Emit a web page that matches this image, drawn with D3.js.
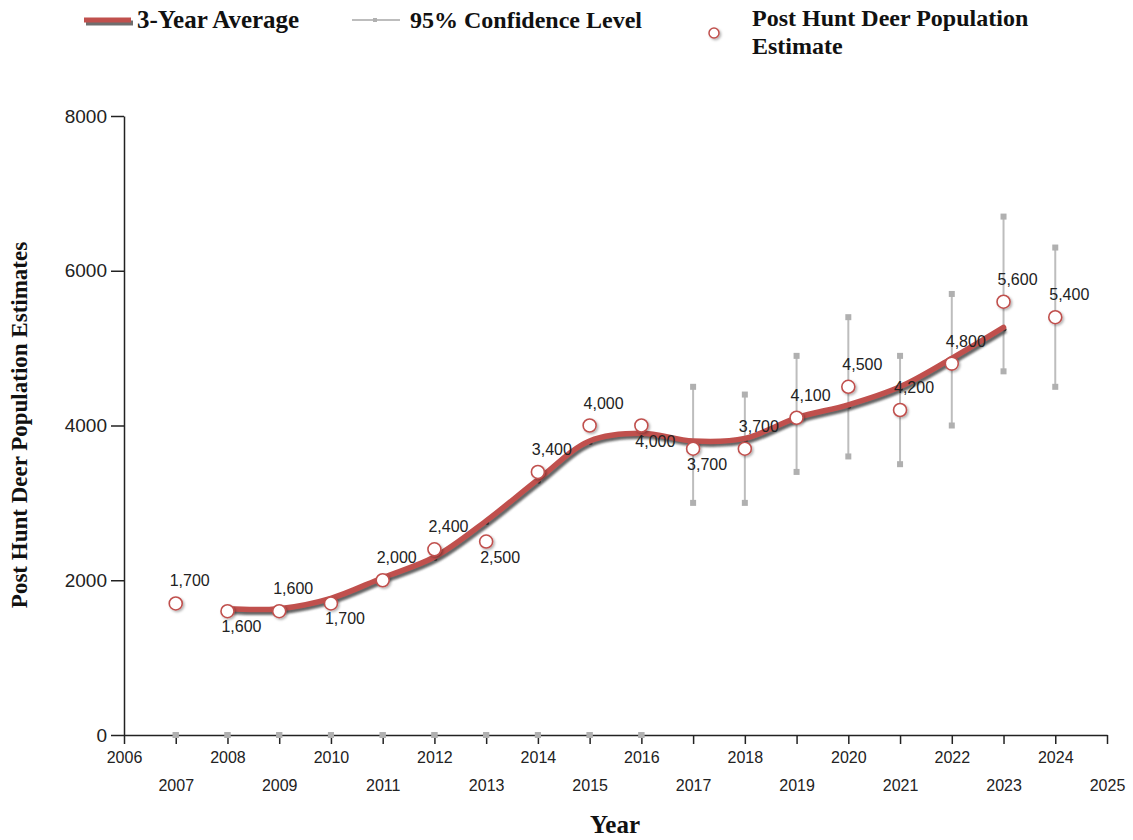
<!DOCTYPE html>
<html>
<head>
<meta charset="utf-8">
<script src="https://cdn.jsdelivr.net/npm/d3@7"></script>
<style>
  body { margin: 0; background: #fff; }
  .tick text { font-family: "Liberation Sans", Arial, sans-serif; fill: #222; }
  .legend text, .title { font-family: "Liberation Serif", "Times New Roman", serif; font-weight: bold; fill: #111; }
  .dlabel { font-family: "Liberation Sans", Arial, sans-serif; font-size: 16px; fill: #222; }
</style>
</head>
<body>
<svg width="1133" height="840"></svg>
<script>
// yearly estimates
const years = [2007, 2008, 2009, 2010, 2011, 2012, 2013, 2014, 2015, 2016, 2017, 2018, 2019, 2020, 2021, 2022, 2023, 2024];
const estimates = [1700, 1600, 1600, 1700, 2000, 2400, 2500, 3400, 4000, 4000, 3700, 3700, 4100, 4500, 4200, 4800, 5600, 5400];
const labelSide = ["up", "down", "up", "down", "up", "up", "down", "up", "up", "down", "down", "up", "up", "up", "up", "up", "up", "up"];

// 95% confidence limits (zero where none reported)
const ciLow = [0, 0, 0, 0, 0, 0, 0, 0, 0, 0, 3000, 3000, 3400, 3600, 3500, 4000, 4700, 4500];
const ciHigh = [0, 0, 0, 0, 0, 0, 0, 0, 0, 0, 4500, 4400, 4900, 5400, 4900, 5700, 6700, 6300];

// 3-year average
const avgYears = [2008, 2009, 2010, 2011, 2012, 2013, 2014, 2015, 2016, 2017, 2018, 2019, 2020, 2021, 2022, 2023];
const avgValues = [1633, 1633, 1767, 2033, 2300, 2767, 3300, 3800, 3900, 3800, 3833, 4100, 4267, 4500, 4867, 5267];

const xTicks = d3.range(2006, 2026);
const yTicks = [0, 2000, 4000, 6000, 8000];

const red = "#c0504d", shadow = "#4a4a4a", ciColor = "#bdbdbd";

const svg = d3.select("svg");
const x = d3.scaleLinear().domain([2006, 2025]).range([124, 1107]);
const y = d3.scaleLinear().domain([0, 8000]).range([735, 116]);

const defs = svg.append("defs");
defs.append("filter").attr("id", "blur").append("feGaussianBlur").attr("stdDeviation", 1.2);
const ds = defs.append("filter").attr("id", "dotshadow").attr("x", "-50%").attr("y", "-50%").attr("width", "200%").attr("height", "200%");
ds.append("feDropShadow").attr("dx", 1.5).attr("dy", 1.5).attr("stdDeviation", 1).attr("flood-color", "#000").attr("flood-opacity", 0.3);

// axes
const xAxis = svg.append("g")
    .attr("transform", `translate(0,${y(0)})`)
    .call(d3.axisBottom(x).tickValues(xTicks).tickFormat(d3.format("d")).tickSize(9).tickSizeOuter(0));
xAxis.selectAll(".tick text")
    .style("font-size", "16px")
    .attr("dy", 0)
    .attr("y", (d, i) => i % 2 ? 56 : 28);

const yAxis = svg.append("g")
    .attr("transform", `translate(${x(2006)},0)`)
    .call(d3.axisLeft(y).tickValues(yTicks).tickFormat(d3.format("d")).tickSize(13).tickSizeOuter(0).tickPadding(4));
yAxis.selectAll(".tick text").style("font-size", "19px");
svg.selectAll(".domain, .tick line").attr("stroke", "#222").attr("stroke-width", 1.5);

// confidence bars
const ci = svg.append("g");
years.forEach((yr, i) => {
    ci.append("line")
        .attr("x1", x(yr)).attr("x2", x(yr))
        .attr("y1", y(ciLow[i])).attr("y2", y(ciHigh[i]))
        .attr("stroke", ciColor).attr("stroke-width", 2);
    [ciLow[i], ciHigh[i]].forEach(v => {
        ci.append("rect")
            .attr("x", x(yr) - 3).attr("y", y(v) - 3)
            .attr("width", 6).attr("height", 6)
            .attr("fill", "#b0b0b0");
    });
});

// 3-year average line
const avg = avgYears.map((yr, i) => [yr, avgValues[i]]);
const line = d3.line()
    .x(d => x(d[0]))
    .y(d => y(d[1]))
    .curve(d3.curveCatmullRom.alpha(0.5));

svg.append("path")
    .attr("d", line(avg))
    .attr("transform", "translate(2,3)")
    .attr("fill", "none").attr("stroke", shadow).attr("stroke-width", 5)
    .attr("opacity", 0.85).attr("filter", "url(#blur)");
svg.append("g").selectAll("circle")
    .data(avg).enter()
    .append("circle")
    .attr("cx", d => x(d[0]) + 1).attr("cy", d => y(d[1]) + 2)
    .attr("r", 2).attr("fill", "#333");
svg.append("path")
    .attr("d", line(avg))
    .attr("fill", "none").attr("stroke", red).attr("stroke-width", 5.5)
    .attr("stroke-linecap", "round");

// estimate points
svg.append("g").selectAll("circle")
    .data(years).enter()
    .append("circle")
    .attr("cx", d => x(d))
    .attr("cy", (d, i) => y(estimates[i]))
    .attr("r", 6.5)
    .attr("fill", "#fff").attr("stroke", red).attr("stroke-width", 1.6)
    .attr("filter", "url(#dotshadow)");

svg.append("g").selectAll("text")
    .data(years).enter()
    .append("text")
    .attr("class", "dlabel")
    .attr("text-anchor", "middle")
    .attr("x", d => x(d) + 14)
    .attr("y", (d, i) => y(estimates[i]) + (labelSide[i] === "up" ? -17 : 21))
    .text((d, i) => d3.format(",")(estimates[i]));

// axis titles
svg.append("text").attr("class", "title")
    .attr("x", 615).attr("y", 833)
    .attr("text-anchor", "middle").style("font-size", "25px")
    .text("Year");
svg.append("text").attr("class", "title")
    .attr("transform", "translate(27,425) rotate(-90)")
    .attr("text-anchor", "middle").style("font-size", "23px")
    .text("Post Hunt Deer Population Estimates");

// legend
const lg = svg.append("g").attr("class", "legend");
lg.append("line").attr("x1", 86).attr("x2", 133).attr("y1", 23).attr("y2", 23)
    .attr("stroke", shadow).attr("stroke-width", 5).attr("opacity", 0.8);
lg.append("line").attr("x1", 84).attr("x2", 131).attr("y1", 20).attr("y2", 20)
    .attr("stroke", red).attr("stroke-width", 5);
lg.append("text").attr("x", 137).attr("y", 28).style("font-size", "25px").text("3-Year Average");

lg.append("line").attr("x1", 352).attr("x2", 400).attr("y1", 20).attr("y2", 20)
    .attr("stroke", ciColor).attr("stroke-width", 2);
lg.append("rect").attr("x", 373).attr("y", 18).attr("width", 4).attr("height", 4).attr("fill", "#b0b0b0");
lg.append("text").attr("x", 410).attr("y", 28).style("font-size", "24px").text("95% Confidence Level");

lg.append("circle").attr("cx", 714).attr("cy", 33).attr("r", 5)
    .attr("fill", "#fff").attr("stroke", red).attr("stroke-width", 1.5)
    .attr("filter", "url(#dotshadow)");
const t3 = lg.append("text").attr("x", 752).attr("y", 26).style("font-size", "24px");
t3.append("tspan").attr("x", 752).text("Post Hunt Deer Population");
t3.append("tspan").attr("x", 752).attr("dy", 28).text("Estimate");
</script>
</body>
</html>
